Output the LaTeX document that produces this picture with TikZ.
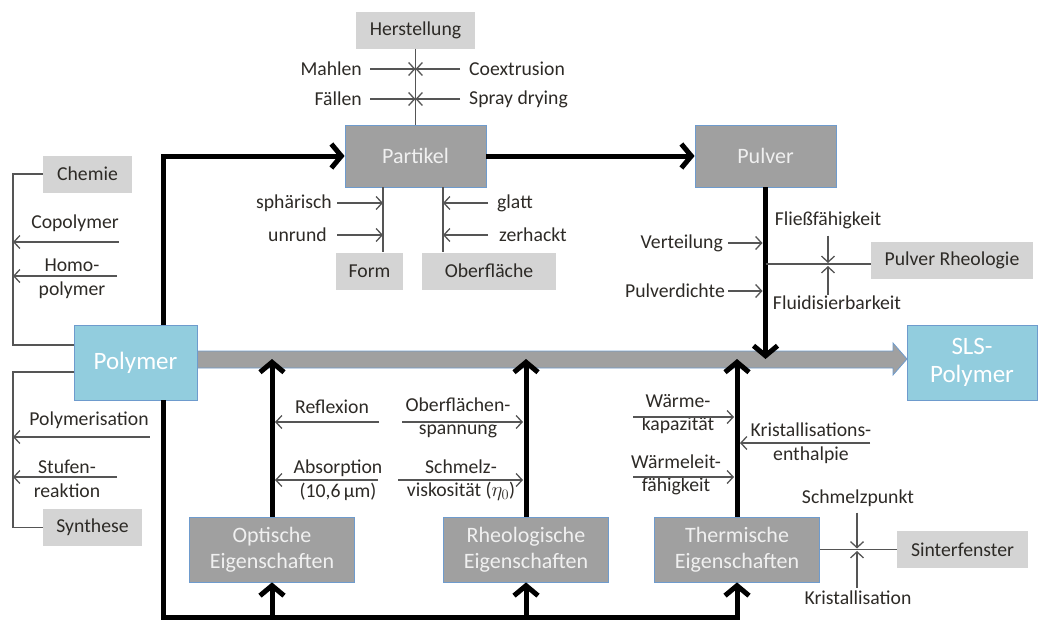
\documentclass[tikz,border=0pt]{standalone}
\usepackage{fontspec}
\setmainfont{Carlito}
\usetikzlibrary{arrows.meta}
\definecolor{darkfill}{RGB}{160,160,160}
\definecolor{lightfill}{RGB}{212,212,212}
\definecolor{bluefill}{RGB}{146,205,222}
\definecolor{blueedge}{RGB}{110,155,205}
\definecolor{labeltext}{RGB}{45,42,38}
\definecolor{twiggray}{RGB}{85,85,85}
\tikzset{
  lightbox/.style={fill=lightfill, text=labeltext, inner sep=0pt, minimum height=37pt, font=\fontsize{19.7}{23}\selectfont},
  darkbox/.style={fill=darkfill, draw=blueedge, line width=0.8pt, text=white!94!black, inner sep=0pt, align=center, minimum width=165pt, minimum height=65pt, font=\fontsize{22}{26}\selectfont},
  bluebox/.style={fill=bluefill, draw=blueedge, line width=0.8pt, text=white, inner sep=0pt, align=center, minimum height=75pt, font=\fontsize{25}{28}\selectfont},
  lbl/.style={text=labeltext, inner sep=0pt, align=center, font=\fontsize{19.7}{23.5}\selectfont},
  twig/.style={draw=twiggray, line width=1.3pt},
  feed/.style={twig, -{Straight Barb[length=6pt,width=13pt]}},
  main/.style={line width=5pt, -{Straight Barb[length=10pt,width=24pt]}}
}
\begin{document}
\begin{tikzpicture}[x=1pt,y=-1pt]
\useasboundingbox (0,0) rectangle (1040,621);

\node[lightbox, minimum width=119pt] (herst) at (415.5,30) {Herstellung};
\node[darkbox, minimum width=141pt, minimum height=62pt] (partikel) at (415.5,156) {Partikel};
\node[darkbox, minimum width=141pt, minimum height=62pt] (pulver) at (765.5,156) {Pulver};
\node[lightbox, minimum width=67pt] (form) at (369.5,271) {Form};
\node[lightbox, minimum width=134pt] (oberfl) at (489,271) {Oberfläche};
\node[lightbox, minimum width=89pt] (chemie) at (87.5,174) {Chemie};
\node[lightbox, minimum width=99pt] (synth) at (92.5,527.5) {Synthese};
\node[bluebox, minimum width=123pt] (polymer) at (135.5,362.5) {Polymer};
\node[bluebox, minimum width=130pt] (sls) at (972,362.5) {SLS-\\Polymer};
\node[lightbox, minimum width=162pt] (prheo) at (952,260.5) {Pulver Rheologie};
\node[darkbox] (opt) at (272,549.5) {Optische\\Eigenschaften};
\node[darkbox] (rheo) at (526,549.5) {Rheologische\\Eigenschaften};
\node[darkbox] (therm) at (737,549.5) {Thermische\\Eigenschaften};
\node[lightbox, minimum width=131pt] (sinter) at (962.5,549.5) {Sinterfenster};

\coordinate (tip) at (907,359);
\coordinate (base) at (0,617);
\filldraw[fill=darkfill, draw=blueedge, line width=0.8pt] (polymer.east |- 0,351) -- (893,351) -- (893,343) -- (tip) -- (893,375) -- (893,368) -- (polymer.east |- 0,368) -- cycle;

\draw[twig] (herst) -- (partikel);
\node[lbl, anchor=east] (mahlen) at (362,69) {Mahlen};
\node[lbl, anchor=east] (faellen) at (362,99) {Fällen};
\node[lbl, anchor=west] (coex) at (469,69) {Coextrusion};
\node[lbl, anchor=west] (spray) at (469,99) {Spray drying};
\draw[feed] ([xshift=8pt]mahlen.east) -- (mahlen -| herst);
\draw[feed] ([xshift=8pt]faellen.east) -- (faellen -| herst);
\draw[feed] ([xshift=-9pt]coex.west) -- (coex -| herst);
\draw[feed] ([xshift=-9pt]spray.west) -- (spray -| herst);

\coordinate (fl) at ([xshift=13.5pt]form.north);
\coordinate (ol) at ([xshift=-46pt]oberfl.north);
\draw[twig] (fl |- partikel.south) -- (fl);
\draw[twig] (ol |- partikel.south) -- (ol);
\node[lbl, anchor=east] (sphaer) at (332,203) {sphärisch};
\node[lbl, anchor=east] (unrund) at (327,235) {unrund};
\node[lbl, anchor=west] (glatt) at (497,203) {glatt};
\node[lbl, anchor=west] (zerh) at (499,235) {zerhackt};
\draw[feed] ([xshift=5pt]sphaer.east) -- (sphaer -| fl);
\draw[feed] ([xshift=10pt]unrund.east) -- (unrund -| fl);
\draw[feed] ([xshift=-9pt]glatt.west) -- (glatt -| ol);
\draw[feed] ([xshift=-11pt]zerh.west) -- (zerh -| ol);

\coordinate (cl) at (13,345);
\coordinate (sl) at (13,372);
\draw[twig] (chemie.west) -| (cl) -- (cl -| polymer.west);
\draw[twig] (sl -| polymer.west) -- (sl) |- (synth.west);
\node[lbl] (copoly) at (75,223) {Copolymer};
\node[lbl] (homo) at (72,279) {Homo-\\polymer};
\node[lbl] (polyrn) at (89,420) {Polymerisation};
\node[lbl] (stufen) at (67,479) {Stufen-\\reaktion};
\draw[feed] ([yshift=-19pt]copoly.east) -- ([yshift=-19pt]copoly.center -| cl);
\draw[feed] ([xshift=45pt,yshift=3pt]homo.center) -- ([yshift=3pt]homo.center -| cl);
\draw[feed] ([xshift=1pt,yshift=-17pt]polyrn.east) -- ([yshift=-17pt]polyrn.center -| cl);
\draw[feed] ([xshift=50pt,yshift=2pt]stufen.center) -- ([yshift=2pt]stufen.center -| cl);

\draw[main] ([xshift=27.5pt]polymer.north) |- (partikel);
\draw[main] (partikel) -- (pulver);
\draw[main] (pulver) -- (pulver |- tip);

\node[lbl, anchor=east] (verteil) at (723,243) {Verteilung};
\node[lbl, anchor=east] (pdicht) at (725,291) {Pulverdichte};
\draw[feed] ([xshift=5pt]verteil.east) -- ([xshift=-3pt]verteil -| pulver);
\draw[feed] ([xshift=3pt]pdicht.east) -- ([xshift=-3pt]pdicht -| pulver);
\coordinate (rj) at (828,264);
\draw[twig] (rj -| pulver) -- (rj -| prheo.west);
\node[lbl] (fliess) at (828,220) {Fließfähigkeit};
\node[lbl] (fluid) at (837,303) {Fluidisierbarkeit};
\draw[feed] ([yshift=-7pt]fliess.south -| rj) -- ([yshift=1pt]rj);
\draw[feed] ([yshift=1pt]fluid.north -| rj) -- ([yshift=-2pt]rj);

\draw[line width=5pt] ([xshift=27.5pt]polymer.south) |- ([xshift=2.5pt]therm.south |- base);
\draw[main] (opt |- base) -- (opt);
\draw[main] (rheo |- base) -- (rheo);
\draw[main] (therm |- base) -- (therm);
\draw[main] (opt) -- (opt |- tip);
\draw[main] (rheo) -- (rheo |- tip);
\draw[main] (therm) -- (therm |- tip);

\node[lbl] (refl) at (332,407) {Reflexion};
\node[lbl] (absorp) at (338,480) {Absorption\\(10,6\,µm)};
\draw[feed] ([xshift=10pt,yshift=-15pt]refl.east) -- ([xshift=3pt,yshift=-15pt]refl.center -| opt);
\draw[feed] ([xshift=40pt]absorp.center) -- ([xshift=3pt]absorp.center -| opt);

\node[lbl] (oflsp) at (458,418) {Oberflächen-\\spannung};
\node[lbl] (schmelz) at (461,480) {Schmelz-\\viskosität ($\eta_0$)};
\draw[feed] ([xshift=-56pt,yshift=-4pt]oflsp.center) -- ([xshift=-3pt,yshift=-4pt]oflsp.center -| rheo);
\draw[feed] ([xshift=-63pt]schmelz.center) -- ([xshift=-3pt]schmelz.center -| rheo);

\node[lbl] (waerme) at (678,414) {Wärme-\\kapazität};
\node[lbl] (wleit) at (676,475) {Wärmeleit-\\fähigkeit};
\node[lbl] (kristen) at (811,443) {Kristallisations-\\enthalpie};
\draw[feed] ([xshift=-45pt,yshift=-3pt]waerme.center) -- ([xshift=-3pt,yshift=-3pt]waerme.center -| therm);
\draw[feed] ([xshift=-43pt,yshift=-2pt]wleit.center) -- ([xshift=-3pt,yshift=-2pt]wleit.center -| therm);
\draw[feed] ([xshift=59pt]kristen.center) -- ([xshift=3pt]kristen.center -| therm);

\draw[twig] (therm) -- (sinter);
\coordinate (sj) at (857,549.5);
\node[lbl] (schmp) at (858,498) {Schmelzpunkt};
\node[lbl] (kristall) at (858,598) {Kristallisation};
\draw[feed] ([yshift=-6pt]schmp.south -| sj) -- ([yshift=1pt]sj);
\draw[feed] ([yshift=3pt]kristall.north -| sj) -- ([yshift=-1.5pt]sj);
\end{tikzpicture}
\end{document}
